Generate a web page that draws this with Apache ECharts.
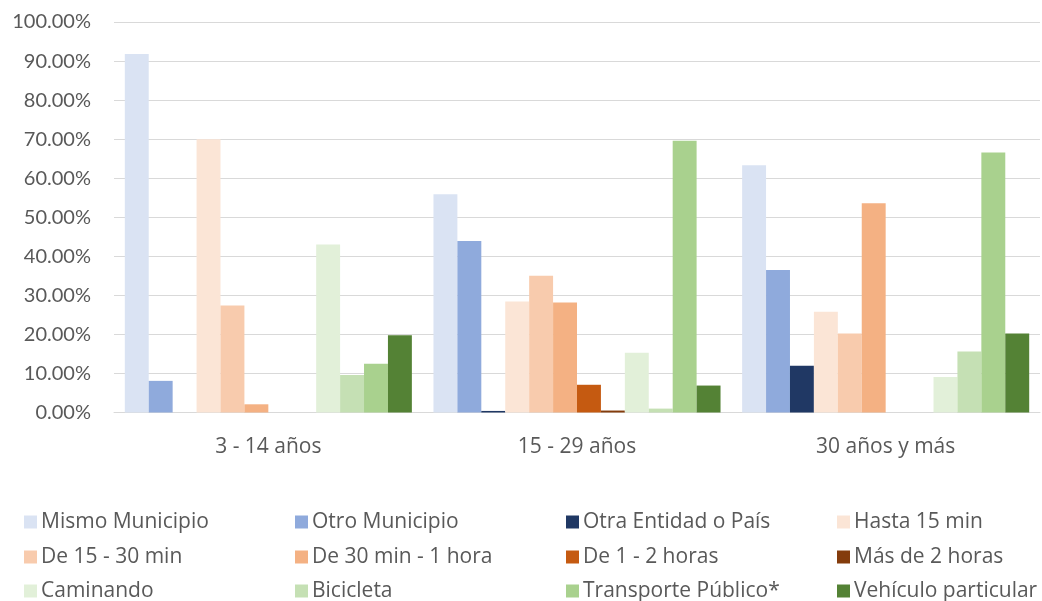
<!DOCTYPE html>
<html><head><meta charset="utf-8">
<script src="https://cdn.jsdelivr.net/npm/echarts@6/dist/echarts.min.js"></script>
<style>html,body{margin:0;padding:0;background:#fff}#c{width:1042px;height:601px}</style>
</head><body><div id="c"></div>
<script>
const categories = ['3 - 14 años', '15 - 29 años', '30 años y más'];
const seriesNames = ['Mismo Municipio','Otro Municipio','Otra Entidad o País','Hasta 15 min','De 15 - 30 min','De 30 min - 1 hora','De 1 - 2 horas','Más de 2 horas','Caminando','Bicicleta','Transporte Público*','Vehículo particular'];
const mismoMunicipio = [91.8, 55.9, 63.3];
const otroMunicipio = [8.1, 43.9, 36.5];
const otraEntidad = [0, 0.4, 12.0];
const hasta15 = [70.0, 28.4, 25.8];
const de15a30 = [27.4, 35.0, 20.2];
const de30a1h = [2.1, 28.2, 53.6];
const de1a2h = [0, 7.1, 0];
const masDe2h = [0, 0.5, 0];
const caminando = [43.0, 15.3, 9.1];
const bicicleta = [9.6, 1.0, 15.6];
const transporte = [12.5, 69.6, 66.6];
const vehiculo = [19.8, 6.9, 20.2];
const values = [mismoMunicipio, otroMunicipio, otraEntidad, hasta15, de15a30, de30a1h, de1a2h, masDe2h, caminando, bicicleta, transporte, vehiculo];
const colors = ['#DAE3F3','#8FAADC','#203864','#FBE5D6','#F8CBAD','#F4B183','#C55A11','#843C0C','#E2F0D9','#C5E0B4','#A9D18E','#548235'];

const chart = echarts.init(document.getElementById('c'), null, {renderer:'canvas'});
const colLeft = [24, 295, 566, 837];
const rowTop = [511, 546, 580];
const legends = seriesNames.map((n, i) => ({
  orient: 'horizontal', left: colLeft[i % 4], top: rowTop[Math.floor(i / 4)],
  itemWidth: 13, itemHeight: 13, icon: 'rect', padding: 0,
  textStyle: {fontFamily: 'Open Sans', fontSize: 21, color: '#595959', lineHeight: 22, padding: [0,0,0,-1]},
  selectedMode: false,
  data: [n]
}));
chart.setOption({
  animation: false,
  color: colors,
  grid: {left: 114, right: 2, top: 22, bottom: 188.5, containLabel: false},
  legend: legends,
  xAxis: {
    type: 'category', data: categories,
    axisLine: {lineStyle: {color: '#d9d9d9', width: 1}},
    axisTick: {show: false},
    axisLabel: {fontFamily: 'Open Sans', fontSize: 21, color: '#595959', margin: 24}
  },
  yAxis: {
    type: 'value', min: 0, max: 100, interval: 10,
    axisLine: {show: false}, axisTick: {show: false},
    splitLine: {lineStyle: {color: '#d9d9d9', width: 1}},
    axisLabel: {fontFamily: 'Lato', fontSize: 20, color: '#595959', margin: 23,
      formatter: v => v.toFixed(2) + '%'}
  },
  series: values.map((d, i) => ({
    name: seriesNames[i], type: 'bar', data: d,
    barGap: '0%', barCategoryGap: '7%',
    itemStyle: {color: colors[i]}
  }))
});
</script></body></html>
